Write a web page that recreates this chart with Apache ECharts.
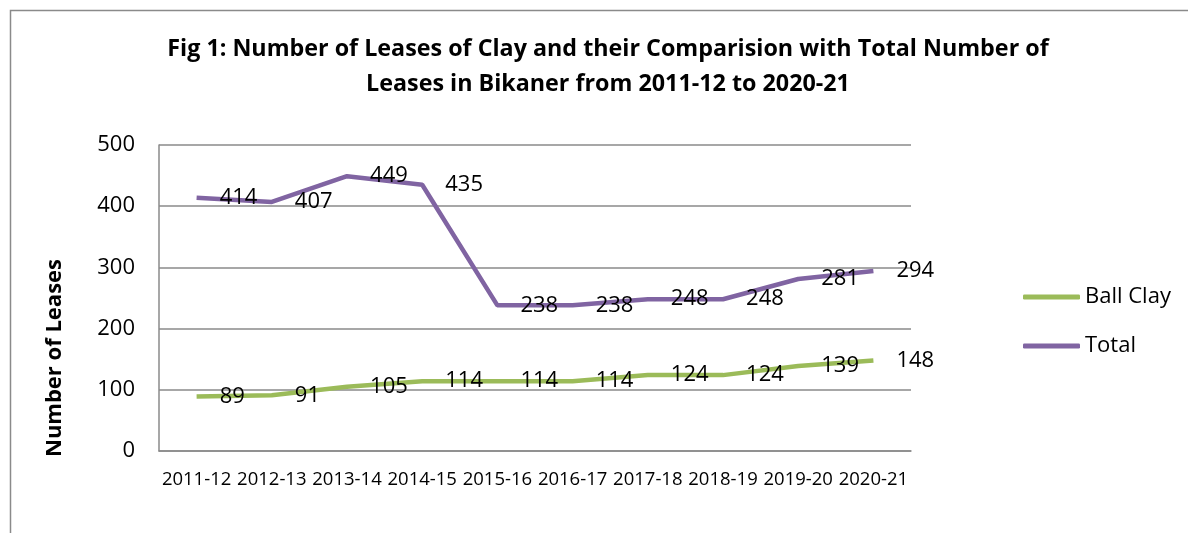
<!DOCTYPE html>
<html>
<head>
<meta charset="utf-8">
<script src="https://cdn.jsdelivr.net/npm/echarts@6/dist/echarts.min.js"></script>
<style>
  html, body { margin: 0; padding: 0; background: #fff; }
  #chart { width: 1188px; height: 533px; }
</style>
</head>
<body>
<div id="chart"></div>
<script>
// 年份
const years = ['2011-12', '2012-13', '2013-14', '2014-15', '2015-16', '2016-17', '2017-18', '2018-19', '2019-20', '2020-21']
// 球土租约数
const ballClay = [89, 91, 105, 114, 114, 114, 124, 124, 139, 148]
// 总租约数
const total = [414, 407, 449, 435, 238, 238, 248, 248, 281, 294]

const font = 'Open Sans'
const chart = echarts.init(document.getElementById('chart'))

const labelStyle = {
  show: true,
  position: 'right',
  distance: 23,
  color: '#000',
  fontFamily: font,
  fontSize: 22
}

chart.setOption({
  backgroundColor: '#fff',
  animation: false,
  graphic: [{
    type: 'rect',
    left: 8,
    top: 8,
    shape: { width: 1400, height: 700 },
    style: { fill: 'none', stroke: '#8a8a8a', lineWidth: 1.5 }
  }],
  title: {
    text: 'Fig 1: Number of Leases of Clay and their Comparision with Total Number of\nLeases in Bikaner from 2011-12 to 2020-21',
    left: 603,
    textAlign: 'center',
    top: 27,
    textStyle: {
      fontFamily: font,
      fontWeight: 'bold',
      fontSize: 23.3,
      lineHeight: 35,
      color: '#000'
    }
  },
  legend: {
    orient: 'vertical',
    left: 1018,
    top: 281,
    itemWidth: 57,
    itemHeight: 5,
    itemGap: 27,
    icon: 'roundRect',
    textStyle: { fontFamily: font, fontSize: 22, color: '#000' },
    data: ['Ball Clay', 'Total']
  },
  grid: { left: 159, right: 277, top: 145, bottom: 82, containLabel: false },
  xAxis: {
    type: 'category',
    data: years,
    boundaryGap: true,
    axisLine: { show: true, lineStyle: { color: '#8a8a8a', width: 1.5 } },
    axisTick: { show: false },
    axisLabel: { color: '#000', fontFamily: font, fontSize: 18.5, margin: 19, interval: 0 }
  },
  yAxis: {
    type: 'value',
    min: 0,
    max: 500,
    interval: 100,
    name: 'Number of Leases',
    nameLocation: 'middle',
    nameGap: 93,
    nameRotate: 90,
    nameTextStyle: { fontFamily: font, fontWeight: 'bold', fontSize: 22, color: '#000', padding: [0, 120, 0, 0] },
    axisLine: { show: true, lineStyle: { color: '#8a8a8a', width: 1.5 } },
    axisTick: { show: false },
    axisLabel: { color: '#000', fontFamily: font, fontSize: 22, margin: 24 },
    splitLine: { lineStyle: { color: '#8a8a8a', width: 1.5 } }
  },
  series: [
    {
      name: 'Ball Clay',
      type: 'line',
      data: ballClay,
      symbol: 'circle',
      symbolSize: 0.1,
      lineStyle: { color: '#9bbb59', width: 4.5 },
      itemStyle: { color: '#9bbb59' },
      label: labelStyle
    },
    {
      name: 'Total',
      type: 'line',
      data: total,
      symbol: 'circle',
      symbolSize: 0.1,
      lineStyle: { color: '#8064a2', width: 4.5 },
      itemStyle: { color: '#8064a2' },
      label: labelStyle
    }
  ]
})

window.addEventListener('resize', () => {
  chart.resize()
})
</script>
</body>
</html>
